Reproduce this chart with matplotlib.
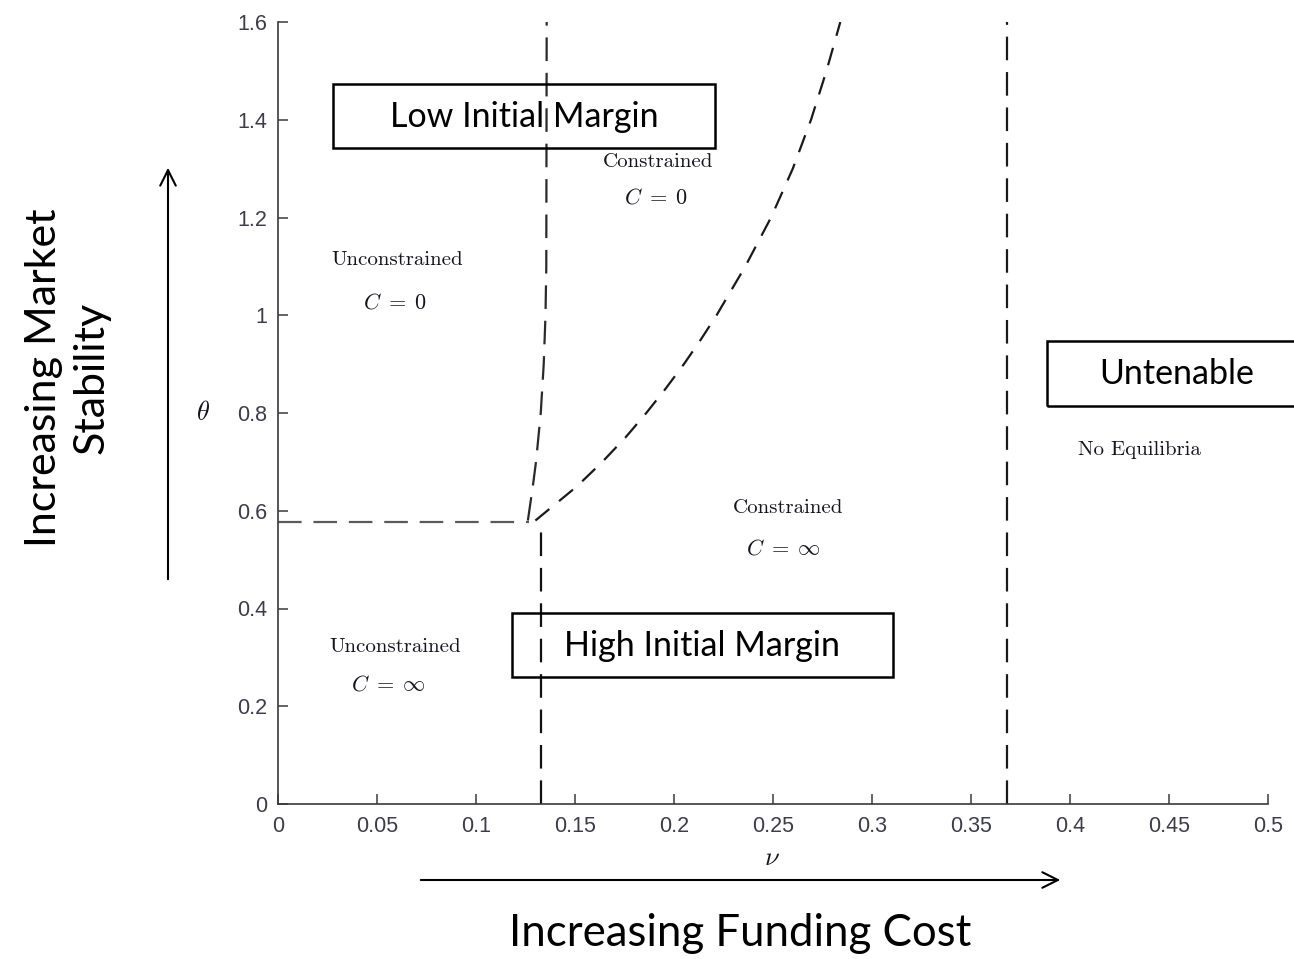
import matplotlib
matplotlib.use("Agg")
import matplotlib.pyplot as plt
from matplotlib.patches import Rectangle, FancyArrowPatch

# ---------------- data ----------------
nu_ticks = [0, 0.05, 0.1, 0.15, 0.2, 0.25, 0.3, 0.35, 0.4, 0.45, 0.5]
nu_tick_labels = ["0", "0.05", "0.1", "0.15", "0.2", "0.25", "0.3", "0.35", "0.4", "0.45", "0.5"]
theta_ticks = [0, 0.2, 0.4, 0.6, 0.8, 1.0, 1.2, 1.4, 1.6]
theta_tick_labels = ["0", "0.2", "0.4", "0.6", "0.8", "1", "1.2", "1.4", "1.6"]

# horizontal boundary (unconstrained C=0 / C=inf)
h_nu = [0.0, 0.127]
h_theta = [0.577, 0.577]
# lower vertical boundary
vlow_nu = [0.1328, 0.1328]
vlow_theta = [0.0, 0.577]
# near-vertical upper boundary
vup_nu = [0.1262, 0.1287, 0.1303, 0.1327, 0.1342, 0.1351, 0.1355, 0.1357]
vup_theta = [0.580, 0.650, 0.700, 0.800, 0.900, 1.000, 1.100, 1.600]
# curved boundary (constrained C=0 / C=inf)
curve_nu = [0.1300, 0.1510, 0.1638, 0.1755, 0.1860, 0.1958, 0.2050, 0.2135,
            0.2215, 0.2360, 0.2490, 0.2600, 0.2692, 0.2770, 0.2840]
curve_theta = [0.580, 0.650, 0.700, 0.750, 0.800, 0.850, 0.900, 0.950,
               1.000, 1.100, 1.200, 1.300, 1.400, 1.500, 1.600]
# untenable boundary
vright_nu = [0.368, 0.368]
vright_theta = [0.0, 1.6]

region_labels = ["Unconstrained", "Constrained", "Constrained", "Unconstrained", "No Equilibria"]
region_nu = [0.060, 0.192, 0.2576, 0.059, 0.435]
region_theta = [1.113, 1.313, 0.606, 0.321, 0.724]
c_labels = [r"$C\;=\;0$", r"$C\;=\;0$", r"$C\;=\;\infty$", r"$C\;=\;\infty$"]
c_nu = [0.059, 0.191, 0.255, 0.056]
c_theta = [1.027, 1.240, 0.522, 0.2455]

box_texts = ["Low Initial Margin", "Untenable", "High Initial Margin"]

# ---------------- figure ----------------
plt.rcParams["mathtext.fontset"] = "cm"
plt.rcParams["lines.scale_dashes"] = False
W, H = 1294, 959
fig = plt.figure(figsize=(W / 100, H / 100), dpi=100)

def fx(px):
    return px / W

def fy(py):
    return 1 - py / H

ax = fig.add_axes([fx(278), fy(804), fx(1268) - fx(278), fy(22) - fy(804)])
ax.set_xlim(0, 0.5)
ax.set_ylim(0, 1.6)
for s in ["top", "right"]:
    ax.spines[s].set_visible(False)
for s in ["left", "bottom"]:
    ax.spines[s].set_color("#3a3a3a")
    ax.spines[s].set_linewidth(1.2)

tick_col = "#3c3c4c"
ax.set_xticks(nu_ticks)
ax.set_xticklabels(nu_tick_labels)
ax.set_yticks(theta_ticks)
ax.set_yticklabels(theta_tick_labels)
ax.tick_params(direction="in", length=7, width=1.1, color="#3a3a3a",
               labelcolor=tick_col, labelsize=15.5)
ax.tick_params(axis="x", pad=9)
ax.tick_params(axis="y", pad=8)
for lab in ax.get_xticklabels() + ax.get_yticklabels():
    lab.set_fontfamily("Liberation Sans")

dash_long = (17, 8.5)
ax.plot(h_nu, h_theta, color="#5a5a5a", lw=1.6, dashes=dash_long)
ax.plot(vlow_nu, vlow_theta, color="#111111", lw=1.6, dashes=dash_long)
ax.plot(vup_nu, vup_theta, color="#2a2a2a", lw=1.6, dashes=dash_long)
ax.plot(curve_nu, curve_theta, color="#1a1a1a", lw=1.6, dashes=(13, 9))
ax.plot(vright_nu, vright_theta, color="#1a1a1a", lw=1.6, dashes=dash_long)

serif_col = "#141420"
for t, x, y in zip(region_labels, region_nu, region_theta):
    ax.text(x, y, t, ha="center", va="center", fontsize=15,
            family="cmr10", color=serif_col)
for t, x, y in zip(c_labels, c_nu, c_theta):
    ax.text(x, y, t, ha="center", va="center", fontsize=16, color=serif_col)

ax.set_xlabel(r"$\nu$", fontsize=19, color=serif_col)
ax.xaxis.set_label_coords(0.499, -0.069)
ax.xaxis.label.set_va("center")
ax.set_ylabel(r"$\theta$", fontsize=19, color=serif_col, rotation=0)
ax.yaxis.set_label_coords(-0.0758, 0.5)
ax.yaxis.label.set_va("center")
ax.yaxis.label.set_ha("center")

# ---------------- overlay boxes ----------------
boxes = [(333, 84, 715, 148), (1047, 341, 1310, 406), (512, 613, 893, 677)]
box_centers = [(524, 117), (1177, 374), (702, 646)]
for (x0, y0, x1, y1), (cx, cy), t in zip(boxes, box_centers, box_texts):
    fig.patches.append(Rectangle((fx(x0), fy(y1)), fx(x1) - fx(x0), fy(y0) - fy(y1),
                                 transform=fig.transFigure, fill=False,
                                 edgecolor="black", lw=1.8))
    fig.text(fx(cx), fy(cy), t, ha="center", va="center", fontsize=24.5,
             family="Lato", color="black")

# ---------------- arrows and outer labels ----------------
fig.patches.append(FancyArrowPatch((fx(168), fy(582)), (fx(168), fy(165)),
                                   transform=fig.transFigure, arrowstyle="->",
                                   mutation_scale=28, lw=1.5, color="black"))
fig.patches.append(FancyArrowPatch((fx(418), fy(880)), (fx(1063), fy(880)),
                                   transform=fig.transFigure, arrowstyle="->",
                                   mutation_scale=28, lw=1.5, color="black"))
fig.text(fx(68), fy(378), "Increasing Market\nStability", rotation=90,
         ha="center", va="center", fontsize=31, family="Lato",
         linespacing=1.3, multialignment="center")
fig.text(fx(740), fy(934), "Increasing Funding Cost", ha="center", va="center",
         fontsize=31.5, family="Lato")

fig.savefig("out.png", dpi=100)
